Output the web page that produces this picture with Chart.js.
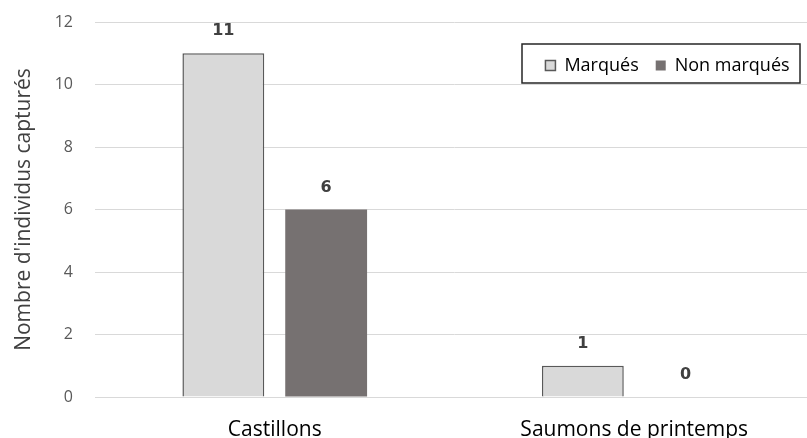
<!DOCTYPE html>
<html>
<head>
<meta charset="utf-8">
<script src="https://cdn.jsdelivr.net/npm/chart.js@4/dist/chart.umd.min.js"></script>
<style>
  html, body { margin: 0; padding: 0; background: #fff; overflow: hidden; }
</style>
</head>
<body>
<canvas id="chart" width="820" height="438"></canvas>
<script>
const categories = ['Castillons', 'Saumons de printemps'];
const seriesNames = ['Marqués', 'Non marqués'];
const marques = [11, 1];
const nonMarques = [6, 0];
const yTicks = [0, 2, 4, 6, 8, 10, 12];

// bar values written above each bar
const valueLabels = {
  id: 'valueLabels',
  afterDatasetsDraw(chart) {
    const ctx = chart.ctx;
    ctx.save();
    ctx.font = 'bold 16px "DejaVu Sans"';
    ctx.fillStyle = '#404040';
    ctx.textAlign = 'center';
    ctx.textBaseline = 'middle';
    chart.data.datasets.forEach((ds, i) => {
      chart.getDatasetMeta(i).data.forEach((bar, j) => {
        ctx.fillText(ds.data[j], bar.x, bar.y - 22);
      });
    });
    ctx.restore();
  }
};

// legend sits inside the plot, with a frame round it
const legendBox = {
  id: 'legendBox',
  afterInit(chart) {
    const lg = chart.legend;
    const fit = lg.fit;
    lg.fit = function () {
      fit.call(this);
      this.realHeight = this.height;
      this.height = 0;
    };
  },
  afterLayout(chart) {
    const lg = chart.legend;
    lg.height = lg.realHeight;
    lg.left = 500;
    lg.right = 835;
    lg.width = lg.right - lg.left;
    lg.top = 62 - lg.height / 2;
    lg.bottom = lg.top + lg.height;
  },
  afterDraw(chart) {
    const ctx = chart.ctx;
    ctx.save();
    ctx.strokeStyle = '#262626';
    ctx.lineWidth = 1.5;
    ctx.strokeRect(522, 44, 278, 39);
    ctx.restore();
  }
};

new Chart(document.getElementById('chart'), {
  type: 'bar',
  data: {
    labels: categories,
    datasets: [{
      label: seriesNames[0],
      data: marques,
      backgroundColor: '#d9d9d9',
      borderColor: '#595959',
      borderWidth: 1.5,
      categoryPercentage: 0.572,
      barPercentage: 0.796
    }, {
      label: seriesNames[1],
      data: nonMarques,
      backgroundColor: '#767171',
      borderColor: '#767171',
      borderWidth: 0,
      categoryPercentage: 0.572,
      barPercentage: 0.796
    }]
  },
  options: {
    responsive: false,
    animation: false,
    devicePixelRatio: 1,
    layout: { padding: { top: 22, right: 6, left: 0, bottom: 0 } },
    plugins: {
      tooltip: { enabled: false },
      legend: {
        position: 'top',
        align: 'center',
        labels: {
          boxWidth: 10,
          boxHeight: 10,
          padding: 17,
          color: '#000',
          font: { family: '"Open Sans"', size: 18 }
        }
      }
    },
    scales: {
      x: {
        grid: { display: false },
        border: { color: '#d9d9d9' },
        ticks: {
          color: '#000',
          padding: 12,
          font: { family: '"Open Sans"', size: 21 }
        },
        afterFit(scale) { scale.height = 41; }
      },
      y: {
        min: 0,
        max: 12,
        afterBuildTicks(scale) { scale.ticks = yTicks.map(v => ({ value: v })); },
        grid: { color: '#d9d9d9', lineWidth: 1, tickLength: 22, tickColor: 'rgba(0,0,0,0)' },
        border: { display: false },
        ticks: {
          color: '#595959',
          padding: 0,
          font: { family: '"Open Sans"', size: 16 }
        },
        title: {
          display: true,
          text: "Nombre d'individus capturés",
          color: '#404040',
          padding: { top: 11, bottom: 0 },
          font: { family: '"Open Sans"', size: 21 }
        },
        afterFit(scale) { scale.width = 95; }
      }
    }
  },
  plugins: [valueLabels, legendBox]
});
</script>
</body>
</html>
